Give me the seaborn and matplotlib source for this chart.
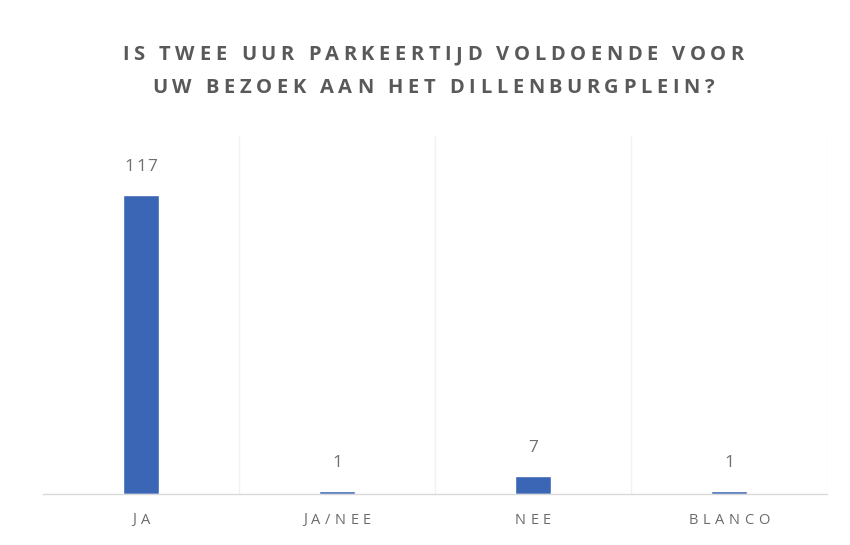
import numpy as np
import pandas as pd
import matplotlib
matplotlib.use("Agg")
import matplotlib.pyplot as plt
import seaborn as sns

# data
categories = ["JA", "JA/NEE", "NEE", "BLANCO"]
counts = [117, 1, 7, 1]
title_lines = ["IS TWEE UUR PARKEERTIJD VOLDOENDE VOOR",
               "UW BEZOEK AAN HET DILLENBURGPLEIN?"]

df = pd.DataFrame({"antwoord": categories, "aantal": counts})

sns.set_style("white")
plt.rcParams['font.family'] = ['Open Sans', 'DejaVu Sans']

fig = plt.figure(figsize=(8.5, 5.45), dpi=100)
ax = fig.add_axes([43 / 850, 1 - 494 / 545, 784 / 850, (494 - 136) / 545])

sns.barplot(data=df, x="antwoord", y="aantal", color="#3A66B5", width=0.18,
            saturation=1, ax=ax)

ax.set_xlim(-0.5, 3.5)
ax.set_ylim(0, 140)

# faint category separators
for b in [0.5, 1.5, 2.5, 3.5]:
    ax.axvline(b, color="#f2f2f2", lw=1, zorder=0)

for s in ["top", "right", "left"]:
    ax.spines[s].set_visible(False)
ax.spines["bottom"].set_color("#d9d9d9")
ax.spines["bottom"].set_linewidth(1)

ax.set_yticks([])
ax.set_xticks(range(len(categories)))
ax.set_xticklabels([])
ax.set_xlabel("")
ax.set_ylabel("")
ax.tick_params(axis="x", length=0)

renderer = fig.canvas.get_renderer()


def text_width(s, **kw):
    t = fig.text(0, 0, s, **kw)
    w = t.get_window_extent(renderer).width
    t.remove()
    return w


def spaced_text(cx, cy, s, spacing, **kw):
    # draw a string centred at pixel (cx, cy) with extra letter spacing
    bar_w = text_width("|", **kw)
    total = text_width(s, **kw) + spacing * (len(s) - 1)
    x0 = cx - total / 2
    for k, ch in enumerate(s):
        if ch == " ":
            continue
        off = text_width(s[:k] + "|", **kw) - bar_w if k else 0
        fig.text(x0 + off + spacing * k, cy, ch, ha="left", va="center",
                 transform=None, **kw)


H = 545
# title
title_kw = dict(fontsize=14.5, fontweight="bold", color="#595959")
spaced_text(433, H - 55, title_lines[0], 4.6, **title_kw)
spaced_text(433, H - 88, title_lines[1], 4.6, **title_kw)

# category labels
for i, c in enumerate(categories):
    px, _ = ax.transData.transform((i, 0))
    spaced_text(px, H - 520, c, 4.5, fontsize=10.5, color="#6b6b6b")

# value labels above bars
for i, v in enumerate(counts):
    px, py = ax.transData.transform((i, v))
    spaced_text(px, py + 28, str(v), 1.5, fontsize=12.5, color="#707070")

fig.savefig("out.png", dpi=100)
